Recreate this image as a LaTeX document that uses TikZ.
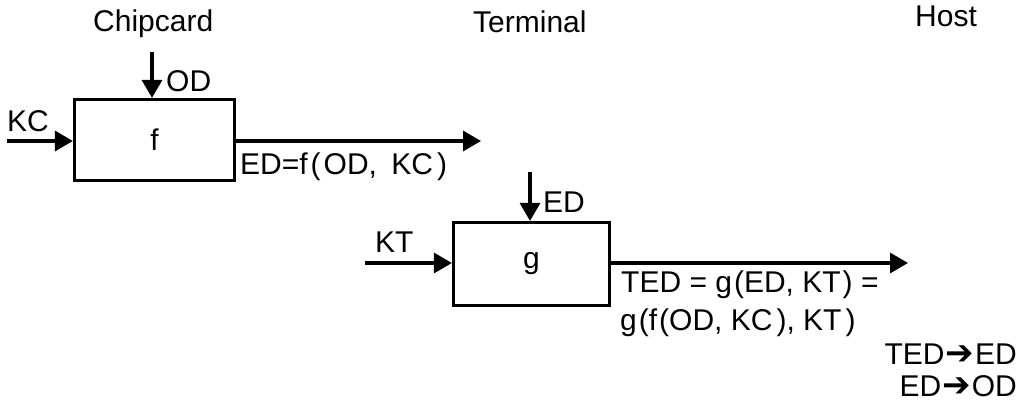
\documentclass[tikz,border=0pt]{standalone}
\usepackage{fontspec}
\setmainfont{Liberation Sans}
\newfontfamily\symfont{DejaVu Sans}
\usetikzlibrary{arrows.meta}
\newcommand{\harrow}{\smash{\symfont\fontsize{34}{34}\selectfont\kern1pt➔\kern1pt}}
\begin{document}
\begin{tikzpicture}[x=1pt,y=-1pt,
  box/.style={draw, line width=3.2pt, inner sep=0pt, font=\fontsize{30}{34}\selectfont},
  flow/.style={line width=3.3pt, -{Triangle[length=18pt,width=20pt]}},
  lbl/.style={inner sep=0pt, font=\fontsize{30}{34}\selectfont}]
\useasboundingbox (0,0) rectangle (1035,406);

% titles
\node[lbl, anchor=base west] (chip) at (93,32) {Chipcard};
\node[lbl, anchor=base west] (term) at (473,33) {Terminal};
\node[lbl, anchor=base west] (host) at (915,27) {Host};

% box f
\node[box, minimum width=160pt, minimum height=81pt] (f) at (154.5,140) {f};
\coordinate (odtop) at (152,52);
\draw[flow] (odtop) -- (odtop |- f.north);
\node[lbl, anchor=base west] (odl) at (166,92) {OD};
\coordinate (kcin) at (7,141);
\draw[flow] (kcin) -- (kcin -| f.west);
\node[lbl, anchor=base west] (kcl) at (7,132) {KC};
\coordinate (fout) at (481,141);
\draw[flow] (fout -| f.east) -- (fout);
\node[lbl, anchor=base west] (edf) at (240,175) {ED=f\kern3pt(\kern3pt OD, \kern6pt KC\kern4pt)};

% box g
\node[box, minimum width=156pt, minimum height=83pt] (g) at (531.5,264) {g};
\coordinate (edtop) at (530,172);
\draw[flow] (edtop) -- (edtop |- g.north);
\node[lbl, anchor=base west] (edl) at (543,212) {ED};
\coordinate (ktin) at (365,263);
\draw[flow] (ktin) -- (ktin -| g.west);
\node[lbl, anchor=base west] (ktl) at (375,252) {KT};
\coordinate (gout) at (908,263);
\draw[flow] (gout -| g.east) -- (gout);
\node[lbl, anchor=base west] (ted1) at (621,292) {TED = g\kern2pt(ED, KT\kern2pt) =};
\node[lbl, anchor=base west] (ted2) at (620,330) {g\kern2pt(f\kern2pt(OD, KC\kern4pt), KT\kern4pt)};

% host
\node[lbl, anchor=base east] (h1) at (1017,364) {TED\harrow ED};
\node[lbl, anchor=base east] (h2) at (1017,396) {ED\harrow OD};
\end{tikzpicture}
\end{document}
